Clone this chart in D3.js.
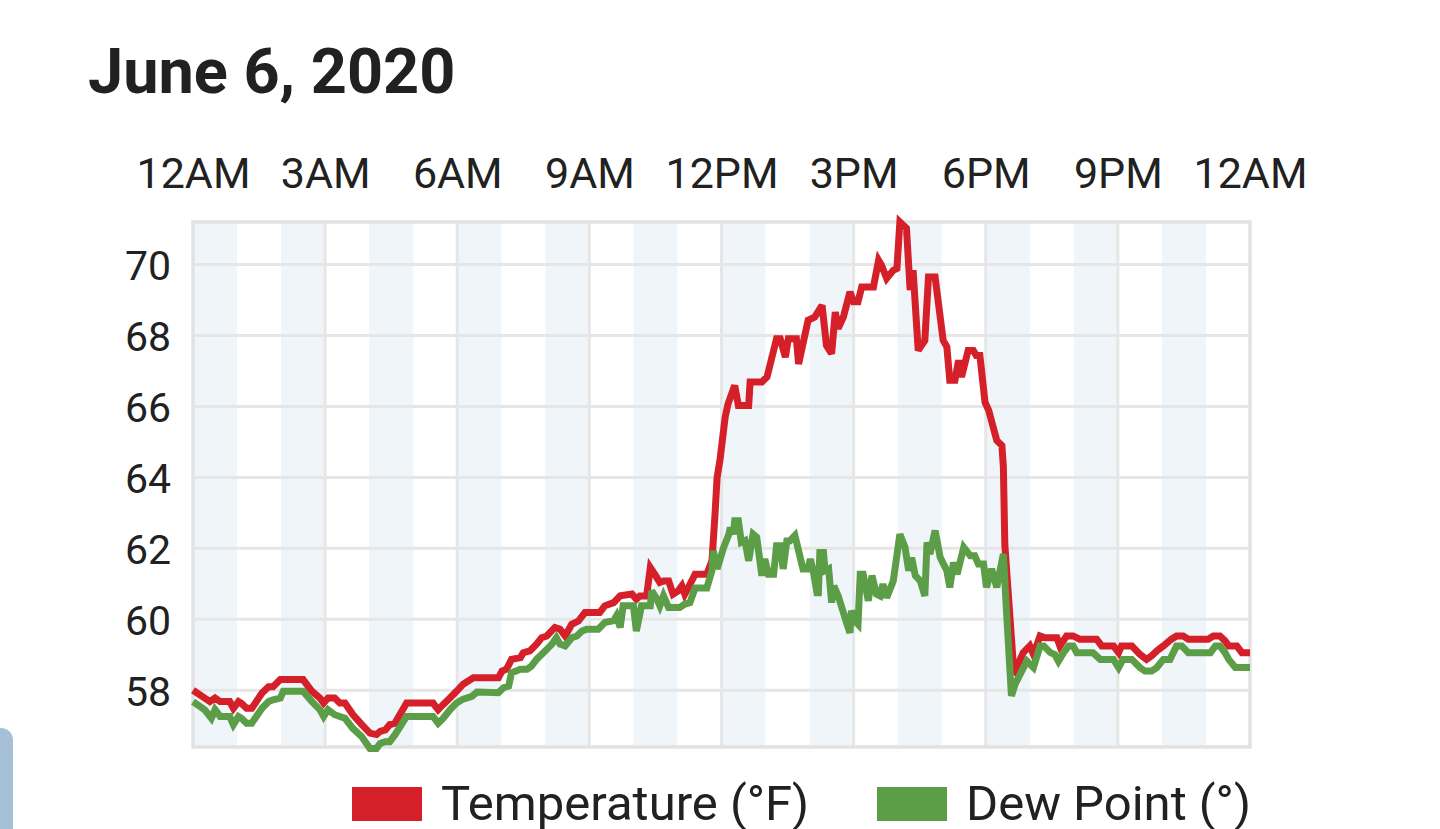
<!DOCTYPE html>
<html>
<head>
<meta charset="utf-8">
<script src="https://cdn.jsdelivr.net/npm/d3@7"></script>
<style>
  html, body { margin: 0; padding: 0; background: #fff; overflow: hidden; }
  svg { display: block; font-family: Roboto, "Noto Sans", sans-serif; }
</style>
</head>
<body>
<svg id="chart" width="1440" height="829"></svg>
<script>
// ---- data (minutes since midnight, °F) ----
const title = "June 6, 2020";
const xTickMinutes = [0, 180, 360, 540, 720, 900, 1080, 1260, 1440];
const xTickLabels = ["12AM", "3AM", "6AM", "9AM", "12PM", "3PM", "6PM", "9PM", "12AM"];
const yTicks = [58, 60, 62, 64, 66, 68, 70];
const seriesNames = ["Temperature (°F)", "Dew Point (°)"];

const tempTimes = [0,16,23,30,37,50,55,62,66,73,80,94,103,109,119,150,162,173,178,184,193,200,207,218,230,241,250,255,262,268,275,291,327,334,341,350,359,368,382,416,421,427,434,446,450,459,468,475,482,493,500,507,516,525,534,554,561,573,582,598,604,609,618,623,629,636,641,648,654,661,666,670,675,684,700,707,711,714,718,725,729,738,743,757,759,775,782,795,800,807,811,822,825,831,838,847,857,863,870,875,879,886,895,900,906,911,927,934,938,945,954,959,963,972,977,981,988,997,1002,1011,1022,1027,1031,1038,1043,1047,1056,1063,1067,1072,1079,1084,1095,1102,1104,1106,1118,1120,1131,1140,1145,1154,1161,1177,1181,1190,1199,1208,1231,1238,1254,1261,1265,1279,1290,1299,1306,1313,1322,1333,1340,1349,1356,1383,1390,1399,1406,1411,1422,1429,1440];
const tempValues = [58.0,57.78,57.68,57.78,57.68,57.68,57.49,57.68,57.63,57.49,57.49,57.92,58.1,58.1,58.3,58.3,57.97,57.78,57.64,57.78,57.78,57.64,57.64,57.31,57.03,56.79,56.75,56.84,56.88,57.03,57.07,57.64,57.64,57.45,57.6,57.78,57.97,58.17,58.35,58.35,58.54,58.59,58.87,58.92,59.06,59.11,59.3,59.48,59.53,59.77,59.72,59.53,59.86,59.95,60.19,60.19,60.38,60.47,60.66,60.71,60.57,60.66,60.66,61.46,61.27,61.04,61.08,61.08,60.71,60.8,60.94,60.71,60.9,61.27,61.27,61.65,62.9,64.0,64.5,65.7,66.08,66.59,66.03,66.03,66.69,66.69,66.83,67.91,67.91,67.39,67.91,67.91,67.2,67.77,68.43,68.52,68.85,67.72,67.49,68.66,68.2,68.52,69.23,68.95,68.95,69.37,69.37,70.12,69.98,69.61,69.84,69.89,71.2,71.02,69.28,69.84,67.58,67.86,69.65,69.65,67.86,67.68,66.74,66.74,67.3,66.83,67.58,67.58,67.44,67.44,66.12,65.89,65.04,64.9,64.3,62.1,58.59,58.54,59.06,59.25,59.01,59.53,59.48,59.48,59.25,59.53,59.53,59.44,59.44,59.25,59.25,59.06,59.25,59.25,59.01,58.87,58.97,59.11,59.25,59.44,59.53,59.53,59.44,59.44,59.53,59.53,59.39,59.25,59.25,59.06,59.06];

const dewTimes = [0,16,25,30,37,50,55,62,66,73,80,94,103,109,119,123,150,162,173,178,184,193,200,207,218,230,241,250,255,262,268,275,291,327,334,341,350,359,368,380,387,416,423,430,434,446,455,461,468,480,489,495,500,507,516,523,530,536,552,561,573,577,582,586,600,604,611,623,625,632,636,641,648,663,670,677,684,700,707,709,714,723,730,732,736,738,743,747,752,757,763,768,775,779,784,791,795,800,804,809,813,820,831,838,841,845,850,852,854,859,861,866,870,873,879,886,891,895,897,902,906,909,913,920,925,931,936,940,945,954,963,970,975,979,984,991,997,1000,1004,1011,1018,1027,1031,1036,1041,1050,1059,1065,1070,1077,1081,1088,1095,1104,1109,1115,1120,1129,1136,1145,1154,1159,1168,1174,1179,1186,1193,1199,1204,1226,1236,1254,1261,1267,1279,1290,1297,1306,1313,1322,1331,1340,1347,1356,1386,1393,1399,1406,1411,1420,1440];
const dewValues = [57.68,57.45,57.21,57.45,57.26,57.26,57.03,57.26,57.21,57.07,57.07,57.49,57.68,57.73,57.78,57.97,57.97,57.68,57.45,57.26,57.45,57.31,57.26,57.21,56.92,56.69,56.36,56.36,56.5,56.55,56.55,56.74,57.26,57.26,57.07,57.21,57.45,57.64,57.75,57.83,57.95,57.93,58.07,58.12,58.49,58.59,58.59,58.68,58.87,59.11,59.3,59.48,59.3,59.25,59.48,59.53,59.67,59.72,59.72,59.91,59.96,60.1,59.77,60.38,60.38,59.67,60.38,60.38,60.8,60.57,60.38,60.66,60.33,60.33,60.43,60.47,60.88,60.88,61.37,61.93,61.42,62.03,62.4,62.59,62.4,62.78,62.78,62.17,62.22,61.65,62.4,62.31,61.23,61.7,61.27,61.27,62.07,62.07,61.42,62.21,62.21,62.36,61.42,61.42,61.7,61.37,60.75,60.75,61.88,61.88,61.37,61.42,60.47,60.94,60.66,60.19,59.86,59.62,60.24,59.95,59.86,61.27,61.27,60.52,61.23,60.71,60.66,60.99,60.61,61.08,62.4,62.03,61.37,61.74,61.23,61.08,60.66,62.17,61.84,62.5,61.74,61.37,60.9,61.6,61.27,62.03,61.79,61.79,61.56,61.56,60.9,61.42,60.9,61.84,59.96,57.84,58.17,58.54,58.82,58.64,59.25,59.25,59.06,59.01,58.82,59.06,59.25,59.25,59.06,59.06,58.87,58.87,58.64,58.87,58.87,58.64,58.54,58.54,58.64,58.87,58.87,59.25,59.25,59.06,59.06,59.25,59.25,59.06,58.87,58.64,58.64];

// ---- layout ----
const svg = d3.select("#chart");
const plot = { left: 193, right: 1250, top: 222, bottom: 747 };

const x = d3.scaleLinear().domain([0, 1440]).range([plot.left, plot.right]);
const y = d3.scaleLinear().domain([56.4, 71.2]).range([plot.bottom, plot.top]);

const textColor = "#212121";
const gridColor = "#e6e6e6";
const bandColor = "#f0f5fa";
const red = "#d52029";
const green = "#5b9e47";

// left side tab
svg.append("rect").attr("x", -20).attr("y", 728).attr("width", 33).attr("height", 140)
  .attr("rx", 12).attr("fill", "#a4bfd7");

// title
svg.append("text").attr("x", 88).attr("y", 93)
  .attr("font-size", 63).attr("font-weight", 700).attr("fill", textColor)
  .text(title);

// alternating hour bands
const bandHours = d3.range(0, 24, 2);
svg.append("g").selectAll("rect").data(bandHours).join("rect")
  .attr("x", d => x(d * 60)).attr("y", plot.top)
  .attr("width", d => x(d * 60 + 60) - x(d * 60)).attr("height", plot.bottom - plot.top)
  .attr("fill", bandColor);

// grid
const grid = svg.append("g");
grid.selectAll("line.h").data(yTicks).join("line").attr("class", "h")
  .attr("x1", plot.left).attr("x2", plot.right)
  .attr("y1", d => y(d)).attr("y2", d => y(d))
  .attr("stroke", gridColor).attr("stroke-width", 3);
grid.selectAll("line.v").data(xTickMinutes.slice(1, -1)).join("line").attr("class", "v")
  .attr("x1", d => x(d)).attr("x2", d => x(d))
  .attr("y1", plot.top).attr("y2", plot.bottom)
  .attr("stroke", gridColor).attr("stroke-width", 3);
svg.append("rect").attr("x", plot.left).attr("y", plot.top)
  .attr("width", plot.right - plot.left).attr("height", plot.bottom - plot.top)
  .attr("fill", "none").attr("stroke", "#e2e2e2").attr("stroke-width", 3.5);

// axes (top time axis, left value axis)
const xAxis = d3.axisTop(x).tickValues(xTickMinutes)
  .tickFormat((d, i) => xTickLabels[i]).tickSize(0).tickPadding(0);
const gx = svg.append("g").attr("transform", `translate(0,188)`).call(xAxis);
gx.select(".domain").remove();
gx.selectAll("text").attr("font-size", 43).attr("fill", textColor)
  .attr("font-family", "Roboto, sans-serif").attr("dy", 0);

const yAxis = d3.axisLeft(y).tickValues(yTicks).tickFormat(d3.format("d")).tickSize(0).tickPadding(0);
const gy = svg.append("g").attr("transform", `translate(171,0)`).call(yAxis);
gy.select(".domain").remove();
gy.selectAll("text").attr("font-size", 41).attr("fill", textColor)
  .attr("font-family", "Roboto, sans-serif").attr("dy", "0.36em");

// lines
const line = d3.line().x(d => x(d[0])).y(d => y(d[1]));
const tempData = tempTimes.map((t, i) => [t, tempValues[i]]);
const dewData = dewTimes.map((t, i) => [t, dewValues[i]]);
svg.append("path").datum(tempData).attr("d", line)
  .attr("fill", "none").attr("stroke", red).attr("stroke-width", 7).attr("stroke-linejoin", "miter").attr("stroke-miterlimit", 3);
svg.append("path").datum(dewData).attr("d", line)
  .attr("fill", "none").attr("stroke", green).attr("stroke-width", 7).attr("stroke-linejoin", "miter").attr("stroke-miterlimit", 3);

// legend
const legendItems = [
  { name: seriesNames[0], color: red, x: 352 },
  { name: seriesNames[1], color: green, x: 877 }
];
const lg = svg.append("g").selectAll("g").data(legendItems).join("g")
  .attr("transform", d => `translate(${d.x},0)`);
lg.append("rect").attr("x", 0).attr("y", 787).attr("width", 70).attr("height", 34).attr("fill", d => d.color);
lg.append("text").attr("x", 89).attr("y", 820).attr("font-size", 49).attr("fill", textColor)
  .text(d => d.name);
</script>
</body>
</html>
